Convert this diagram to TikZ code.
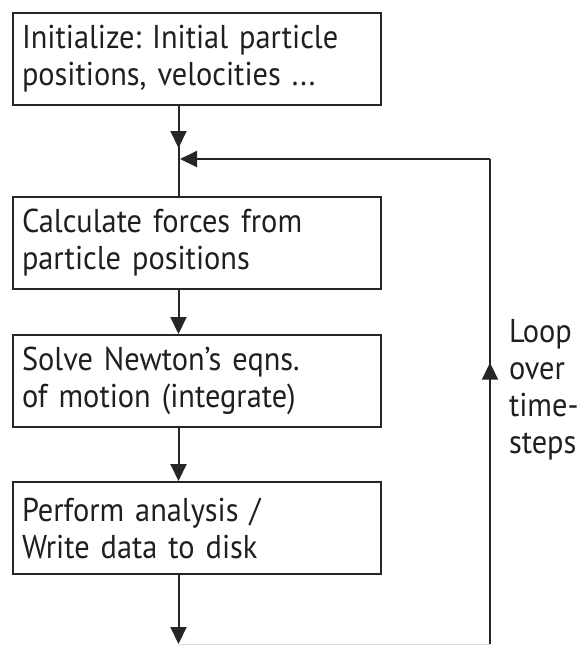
\documentclass[tikz,border=0pt]{standalone}
\usepackage{fontspec}
\setmainfont{PT Sans}[FakeStretch=0.92]
\usetikzlibrary{arrows.meta,decorations.markings}
\begin{document}
\frenchspacing
\begin{tikzpicture}[x=1pt,y=-1pt,
  line width=2pt,
  arr/.style={-{Triangle[width=16pt,length=17pt]}},
  stepbox/.style={draw=black!85, line width=2pt, rectangle, minimum width=368pt, minimum height=92pt,
    text width=350pt, align=left, inner sep=0pt, anchor=north west,
    font=\fontsize{33}{37}\selectfont, text=black!88},
  lbl/.style={align=left, anchor=north west, inner sep=0pt, font=\fontsize{33}{37}\selectfont, text=black!88},
  midarrow/.style={postaction={decorate}, decoration={markings,
    mark=at position #1 with {\arrow{Triangle[width=16pt,length=17pt]}}}}
]
\useasboundingbox (0,0) rectangle (584,645);
\node[stepbox] (b1) at (12,12) {Initialize: Initial particle\\positions, velocities ...};
\node[stepbox] (b2) at (12,196) {Calculate forces from\\particle positions};
\node[stepbox] (b3) at (12,334) {Solve Newton’s eqns.\\of motion (integrate)};
\node[stepbox] (b4) at (12,481) {Perform analysis /\\Write data to disk};
\coordinate (j) at (178.5,159);
\coordinate (jt) at (178.5,148);
\coordinate (bot) at (178.5,644);
\coordinate (br) at (490,644);
\coordinate (tr) at (490,159);
\coordinate (jr) at (180,159);
\draw[black!85] (b1.south -| j) -- (b2.north -| j);
\draw[arr, black!85] (b1.south -| j) -- (jt);
\draw[arr, black!85] (b2.south -| j) -- (b3.north -| j);
\draw[arr, black!85] (b3.south -| j) -- (b4.north -| j);
\draw[arr, black!85] (b4.south -| j) -- (bot);
\draw[black!15, line width=1pt] (bot) -- (br);
\draw[black!85, midarrow=0.58] (br) -- (tr);
\draw[arr, black!85] (tr) -- (jr);
\node[lbl] (loop) at (508,318) {Loop\\over\\time-\\steps};
\end{tikzpicture}
\end{document}
